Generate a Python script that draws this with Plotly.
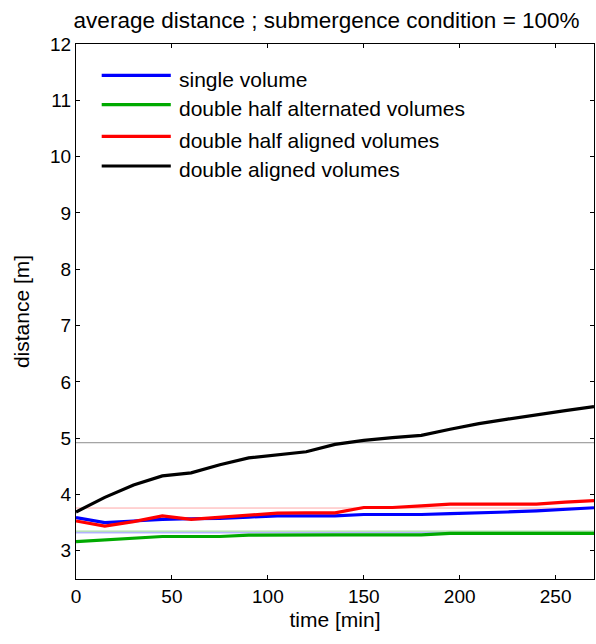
import plotly.graph_objects as go

# ---- data ----
time_min = [0, 15, 30, 45, 60, 75, 90, 105, 120, 135, 150, 165, 180, 195, 210, 225, 240, 255, 270]

single_volume = [3.59, 3.50, 3.53, 3.56, 3.57, 3.575, 3.60, 3.62, 3.62, 3.62, 3.645, 3.645, 3.645,
                 3.66, 3.67, 3.69, 3.71, 3.74, 3.765]
double_half_alternated = [3.165, 3.195, 3.225, 3.255, 3.255, 3.255, 3.28, 3.285, 3.285, 3.285, 3.285,
                          3.285, 3.285, 3.31, 3.31, 3.31, 3.31, 3.31, 3.31]
double_half_aligned = [3.53, 3.44, 3.52, 3.62, 3.56, 3.60, 3.64, 3.67, 3.675, 3.675, 3.77, 3.77, 3.80,
                       3.83, 3.83, 3.83, 3.83, 3.865, 3.89]
double_aligned = [3.69, 3.95, 4.17, 4.33, 4.385, 4.53, 4.65, 4.71, 4.76, 4.89, 4.96, 5.01, 5.05,
                  5.16, 5.26, 5.34, 5.42, 5.49, 5.56]

series_names = ["single volume", "double half alternated volumes",
                "double half aligned volumes", "double aligned volumes"]
series_values = [single_volume, double_half_alternated, double_half_aligned, double_aligned]
series_colors = ["#0000ff", "#00aa00", "#ff0000", "#000000"]

# horizontal reference levels
reference_levels = [4.92, 3.76, 3.35, 3.32]
reference_colors = ["#8c8c8c", "#ffa8a8", "#8fd08f", "#8f8fff"]

x_ticks = [0, 50, 100, 150, 200, 250]
y_ticks = [3, 4, 5, 6, 7, 8, 9, 10, 11, 12]

FONT = "Liberation Sans, Arial, sans-serif"

fig = go.Figure()

for lvl, col in zip(reference_levels, reference_colors):
    fig.add_hline(y=lvl, line=dict(color=col, width=1), layer="below")

for name, vals, col in zip(series_names, series_values, series_colors):
    fig.add_trace(go.Scatter(x=time_min, y=vals, mode="lines", name=name,
                             line=dict(color=col, width=3.2), showlegend=False))

# manual legend (MATLAB-style long line samples)
leg_y = [0.9415, 0.8865, 0.8275, 0.772]
for name, col, yy in zip(series_names, series_colors, leg_y):
    fig.add_shape(type="line", xref="paper", yref="paper", x0=0.0496, x1=0.183, y0=yy, y1=yy,
                  line=dict(color=col, width=3.2))
    fig.add_annotation(xref="paper", yref="paper", x=0.195, y=yy - 0.007, text=name,
                       showarrow=False, xanchor="left", yanchor="middle",
                       font=dict(family=FONT, size=21, color="#000"))

axis_common = dict(showline=True, linecolor="black", linewidth=1.2, mirror="allticks",
                   ticks="inside", ticklen=4, tickwidth=1.2, tickcolor="black",
                   showgrid=False, zeroline=False,
                   tickfont=dict(family=FONT, size=19, color="black"))

fig.update_xaxes(range=[0, 270], tickvals=x_ticks,
                 title=dict(text="time [min]", font=dict(family=FONT, size=21, color="black"),
                            standoff=6),
                 **axis_common)
fig.update_yaxes(range=[2.5, 12], tickvals=y_ticks,
                 title=dict(text="distance [m]", font=dict(family=FONT, size=21, color="black"),
                            standoff=14),
                 **axis_common)

fig.update_layout(
    width=596, height=644,
    margin=dict(l=76, r=2, t=44, b=65),
    paper_bgcolor="white", plot_bgcolor="white",
    title=dict(text="average distance ; submergence condition = 100%",
               x=0.548, xanchor="center", y=0.968, yanchor="middle",
               font=dict(family=FONT, size=22.5, color="black")),
    showlegend=False,
)

fig.write_html("out.html")
